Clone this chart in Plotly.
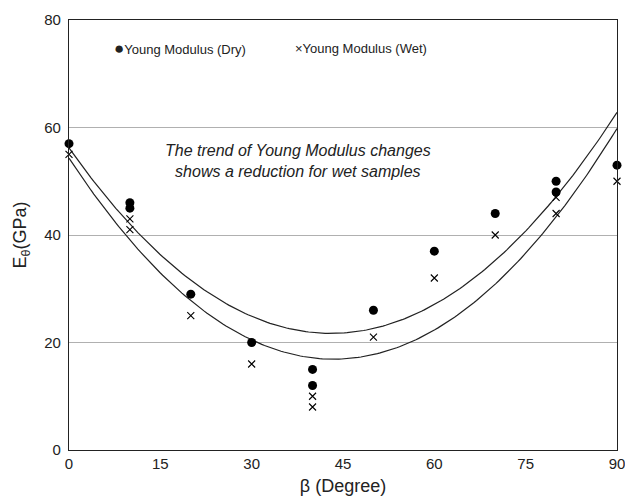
import numpy as np
import plotly.graph_objects as go

beta = [0, 10, 10, 20, 30, 40, 40, 50, 60, 70, 80, 80, 90]
e_dry = [57, 46, 45, 29, 20, 15, 12, 26, 37, 44, 50, 48, 53]
e_wet = [55, 43, 41, 25, 16, 10, 8, 21, 32, 40, 47, 44, 50]

# trend lines (quadratic): value at 0, minimum point, value at 90
trend_dry_pts = ([0, 43.4, 90], [56.2, 21.7, 62.8])
trend_wet_pts = ([0, 43.4, 90], [54.3, 16.9, 59.8])

x_ticks = [0, 15, 30, 45, 60, 75, 90]
y_ticks = [0, 20, 40, 60, 80]

FONT = "Liberation Sans, Arial, sans-serif"

xs = np.linspace(0, 90, 200)
cd = np.polyfit(*trend_dry_pts, 2)
cw = np.polyfit(*trend_wet_pts, 2)

fig = go.Figure()
fig.add_trace(go.Scatter(x=xs, y=np.polyval(cd, xs), mode="lines",
                         line=dict(color="#222", width=1.2), showlegend=False, hoverinfo="skip"))
fig.add_trace(go.Scatter(x=xs, y=np.polyval(cw, xs), mode="lines",
                         line=dict(color="#222", width=1.2), showlegend=False, hoverinfo="skip"))
fig.add_trace(go.Scatter(x=beta, y=e_dry, mode="markers", name="Young Modulus (Dry)",
                         marker=dict(symbol="circle", size=9, color="black"), cliponaxis=False,
                         showlegend=False))
fig.add_trace(go.Scatter(x=beta, y=e_wet, mode="markers", name="Young Modulus (Wet)",
                         marker=dict(symbol="x-thin", size=7, color="black",
                                     line=dict(width=1.1, color="black")), cliponaxis=False,
                         showlegend=False))

# legend (drawn as text, matching the reference's compact layout)
fig.add_annotation(x=(112 - 69) / 548, y=(450 - 48) / 430, xref="paper", yref="paper",
                   xanchor="left", yanchor="middle", showarrow=False,
                   text="<span style='font-size:17px'>●</span>Young Modulus (Dry)",
                   font=dict(family=FONT, size=13, color="#222"))
fig.add_annotation(x=(293 - 69) / 548, y=(450 - 48) / 430, xref="paper", yref="paper",
                   xanchor="left", yanchor="middle", showarrow=False,
                   text="×Young Modulus (Wet)", font=dict(family=FONT, size=13, color="#222"))

fig.add_annotation(x=(298 - 69) / 548, y=(450 - 161) / 430, xref="paper", yref="paper",
                   xanchor="center", yanchor="middle",
                   text="<i>The trend of Young Modulus changes<br>shows a reduction for wet samples</i>",
                   showarrow=False, font=dict(family=FONT, size=16, color="#222"), align="center")

fig.update_layout(
    width=625, height=503,
    margin=dict(l=69, r=8, t=20, b=53),
    paper_bgcolor="white", plot_bgcolor="white",
    font=dict(family=FONT, size=15, color="#222"),
    showlegend=False,
)
fig.update_xaxes(range=[0, 90], tickvals=x_ticks, showgrid=False, zeroline=False,
                 showline=True, linecolor="#222", linewidth=1.2, mirror=True,
                 ticks="", tickfont=dict(size=15), automargin=False, ticklabeloverflow="allow",
                 title=dict(text="β (Degree)", font=dict(size=18), standoff=8))
fig.update_yaxes(range=[0, 80], tickvals=y_ticks, showgrid=True, gridcolor="#b0b0b0",
                 gridwidth=1, zeroline=False,
                 showline=True, linecolor="#222", linewidth=1.2, mirror=True,
                 ticks="", tickfont=dict(size=15), ticklabelstandoff=4, automargin=False,
                 ticklabeloverflow="allow",
                 title=dict(text="E<sub>θ</sub>(GPa)", font=dict(size=18), standoff=12))

fig.write_html("out.html", config={"displayModeBar": False},
               post_script="document.body.style.margin='0';")
